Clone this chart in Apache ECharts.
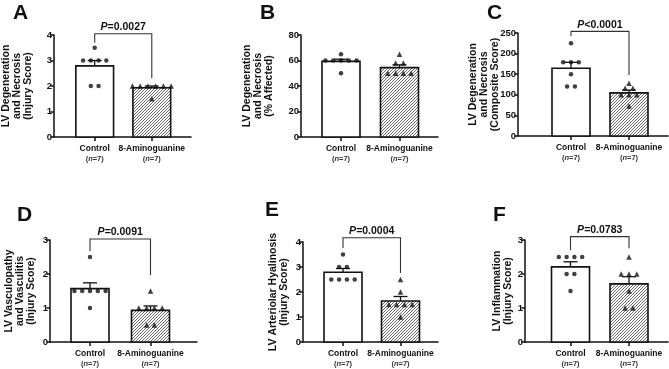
<!DOCTYPE html>
<html>
<head>
<meta charset="utf-8">
<script src="https://cdn.jsdelivr.net/npm/echarts@6/dist/echarts.min.js"></script>
<style>
html,body{margin:0;padding:0;background:#fff;}
#main{width:669px;height:369px;}
</style>
</head>
<body>
<div id="main"></div>
<script>
var groupNames = ['Control', '8-Aminoguanine'];
var groupN = ['7', '7'];
var panelLetters = ['A', 'B', 'C', 'D', 'E', 'F'];
var yTitles = [
	'LV Degeneration\nand Necrosis\n(Injury Score)',
	'LV Degeneration\nand Necrosis\n(% Affected)',
	'LV Degeneration\nand Necrosis\n(Composite Score)',
	'LV Vasculopathy\nand Vasculitis\n(Injury Score)',
	'LV Arteriolar Hyalinosis\n(Injury Score)',
	'LV Inflammation\n(Injury Score)'
];
var yMax = [4, 80, 250, 3, 4, 3];
var yStep = [1, 20, 50, 1, 1, 1];

// individual animals
var controlPoints = [
	[3.5, 3, 3, 3, 3, 2, 2],
	[65, 60, 60, 60, 60, 60, 50],
	[225, 179, 179, 179, 150, 120, 120],
	[2.5, 1.5, 1.5, 1.5, 1.5, 1.5, 1],
	[3.5, 3, 3, 2.5, 2.5, 2.5, 2.5],
	[2.5, 2.5, 2.5, 2.5, 2, 2, 1.5]
];
var aminoPoints = [
	[2, 2, 2, 2, 2, 2, 1.5],
	[65, 58, 58, 50, 50, 50, 50],
	[128, 116, 116, 100, 100, 100, 73],
	[1.5, 1, 1, 1, 1, 0.5, 0.5],
	[2.5, 2, 1.5, 1.5, 1.5, 1.5, 1],
	[2.5, 2, 2, 2, 1.5, 1, 1]
];
// bar heights and SEM
var controlMean = [2.79, 59.3, 164.6, 1.57, 2.79, 2.21];
var controlSem = [0.21, 1.7, 14.2, 0.17, 0.15, 0.15];
var aminoMean = [1.93, 54.4, 104.7, 0.93, 1.64, 1.71];
var aminoSem = [0.07, 2.2, 6.7, 0.13, 0.18, 0.21];

// significance brackets: p text, top, left drop, right drop
var pTexts = ['=0.0027', null, '<0.0001', '=0.0091', '=0.0004', '=0.0783'];
var bracketTop = [4.05, null, 254, 3.03, 4.17, 3.1];
var bracketLeft = [3.7, null, 243, 2.68, 3.76, 2.7];
var bracketRight = [2.3, null, 148, 1.97, 2.76, 2.76];

// panel geometry (px): axis box and bar centres
var layout = [
	{x0: 53, y0: 35, x1: 191, y1: 137, c1: 94, c2: 151.5, gap: 20, lx: 13, ly: 3},
	{x0: 301, y0: 35, x1: 438, y1: 137, c1: 341, c2: 399.5, gap: 26, lx: 260, ly: 3},
	{x0: 518, y0: 33, x1: 668, y1: 136, c1: 571, c2: 629, gap: 17, lx: 487, ly: 3},
	{x0: 50, y0: 240, x1: 197, y1: 342, c1: 90, c2: 150.5, gap: 13, lx: 17, ly: 205},
	{x0: 303, y0: 242, x1: 438, y1: 342, c1: 343, c2: 400.5, gap: 13, lx: 265, ly: 200},
	{x0: 525, y0: 240, x1: 668, y1: 342, c1: 570.5, c2: 629, gap: 11, lx: 493, ly: 205}
];

var FONT = 'Liberation Sans, Arial, sans-serif';
var INK = '#111';

function hatchCanvas() {
	var c = document.createElement('canvas');
	c.width = 3; c.height = 3;
	var g = c.getContext('2d');
	g.fillStyle = '#fff';
	g.fillRect(0, 0, 3, 3);
	g.strokeStyle = '#5a5a5a';
	g.lineWidth = 0.9;
	g.beginPath();
	g.moveTo(0, 3); g.lineTo(3, 0);
	g.moveTo(-1, 1); g.lineTo(1, -1);
	g.moveTo(2, 4); g.lineTo(4, 2);
	g.stroke();
	return c;
}
var hatchFill = {image: hatchCanvas(), repeat: 'repeat'};

// spread tied values side by side like a column scatter
function swarm(values, centre, step) {
	var counts = {}, seen = {}, out = [];
	values.forEach(function (v) { counts[v] = (counts[v] || 0) + 1; });
	values.forEach(function (v) {
		var k = seen[v] || 0;
		seen[v] = k + 1;
		out.push([centre + (k - (counts[v] - 1) / 2) * step, v]);
	});
	return out;
}

var grids = [], xAxes = [], yAxes = [], series = [], titles = [];

layout.forEach(function (L, i) {
	var unit = L.c2 - L.c1;
	var xmin = 1 - (L.c1 - L.x0) / unit;
	var xmax = xmin + (L.x1 - L.x0) / unit;
	var hw = 19 / unit;
	var step = 7.8 / unit;

	grids.push({left: L.x0, top: L.y0, width: L.x1 - L.x0, height: L.y1 - L.y0});
	titles.push({
		text: panelLetters[i], left: L.lx, top: L.ly, padding: 0,
		textStyle: {fontFamily: FONT, fontSize: 21, fontWeight: 'bold', color: INK}
	});
	xAxes.push({
		type: 'value', gridIndex: i, min: xmin, max: xmax,
		splitLine: {show: false},
		axisLine: {show: true, onZero: false, lineStyle: {color: INK, width: 1.5}},
		axisTick: {show: true, length: 4, lineStyle: {color: INK, width: 1.5}, customValues: [1, 2]},
		axisLabel: {
			show: true, margin: 7, customValues: [1, 2],
			formatter: function (v) {
				var k = Math.round(v) - 1;
				return '{a|' + groupNames[k] + '}\n{b|(}{n|n}{b|=' + groupN[k] + ')}';
			},
			rich: {
				a: {fontFamily: FONT, fontSize: 8.5, fontWeight: 'bold', color: INK, lineHeight: 10},
				b: {fontFamily: FONT, fontSize: 7.5, fontWeight: 'bold', color: '#333', lineHeight: 10},
				n: {fontFamily: FONT, fontSize: 7.5, fontWeight: 'bold', fontStyle: 'italic', color: '#333', lineHeight: 10}
			}
		}
	});
	yAxes.push({
		type: 'value', gridIndex: i, min: 0, max: yMax[i], interval: yStep[i],
		name: yTitles[i], nameLocation: 'middle', nameRotate: 90, nameGap: L.gap,
		nameMoveOverlap: false,
		nameTextStyle: {fontFamily: FONT, fontSize: 10.5, fontWeight: 'bold', color: INK, lineHeight: 11},
		splitLine: {show: false},
		axisLine: {show: true, lineStyle: {color: INK, width: 1.5}},
		axisTick: {show: true, length: 3.5, lineStyle: {color: INK, width: 1.5}},
		axisLabel: {fontFamily: FONT, fontSize: 9.5, fontWeight: 'bold', color: INK, margin: 2}
	});

	// bars with SEM
	series.push({
		type: 'custom', xAxisIndex: i, yAxisIndex: i, clip: false, z: 2,
		data: [[1, controlMean[i], controlSem[i], 0], [2, aminoMean[i], aminoSem[i], 1]],
		renderItem: function (params, api) {
			var x = api.value(0), m = api.value(1), s = api.value(2);
			var tl = api.coord([x - hw, m]);
			var br = api.coord([x + hw, 0]);
			var top = api.coord([x, m + s]);
			return {
				type: 'group',
				children: [
					{type: 'line', shape: {x1: top[0], y1: tl[1], x2: top[0], y2: top[1]},
						style: {stroke: INK, lineWidth: 1.3}},
					{type: 'line', shape: {x1: top[0] - 7, y1: top[1], x2: top[0] + 7, y2: top[1]},
						style: {stroke: INK, lineWidth: 1.3}},
					{type: 'rect', shape: {x: tl[0], y: tl[1], width: br[0] - tl[0], height: br[1] - tl[1]},
						style: {fill: api.value(3) ? hatchFill : '#fff', stroke: INK, lineWidth: 1.6}}
				]
			};
		}
	});
	series.push({
		type: 'scatter', xAxisIndex: i, yAxisIndex: i, z: 4,
		symbol: 'circle', symbolSize: 4.5, itemStyle: {color: INK},
		data: swarm(controlPoints[i], 1, step)
	});
	series.push({
		type: 'scatter', xAxisIndex: i, yAxisIndex: i, z: 4,
		symbol: 'triangle', symbolSize: 5.5, itemStyle: {color: INK},
		data: swarm(aminoPoints[i], 2, step)
	});

	if (pTexts[i]) {
		var ptxt = pTexts[i];
		series.push({
			type: 'custom', xAxisIndex: i, yAxisIndex: i, clip: false, z: 5,
			data: [[bracketTop[i], bracketLeft[i], bracketRight[i]]],
			renderItem: function (params, api) {
				var pl = api.coord([1, api.value(1)]);
				var tl = api.coord([1, api.value(0)]);
				var tr = api.coord([2, api.value(0)]);
				var pr = api.coord([2, api.value(2)]);
				return {
					type: 'group',
					children: [
						{type: 'polyline', shape: {points: [pl, tl, tr, pr]},
							style: {stroke: '#333', fill: null, lineWidth: 1.1}},
						{type: 'text', x: (tl[0] + tr[0]) / 2, y: tl[1] - 1,
							style: {
								text: '{i|P}{t|' + ptxt + '}',
								align: 'center', verticalAlign: 'bottom',
								rich: {
									i: {fontFamily: FONT, fontSize: 10.5, fontWeight: 'bold', fontStyle: 'italic', fill: INK},
									t: {fontFamily: FONT, fontSize: 10.5, fontWeight: 'bold', fill: INK}
								}
							}}
					]
				};
			}
		});
	}
});

var myChart = echarts.init(document.getElementById('main'), null, {renderer: 'canvas'});
myChart.setOption({
	animation: false,
	title: titles,
	grid: grids,
	xAxis: xAxes,
	yAxis: yAxes,
	series: series
});
</script>
</body>
</html>
